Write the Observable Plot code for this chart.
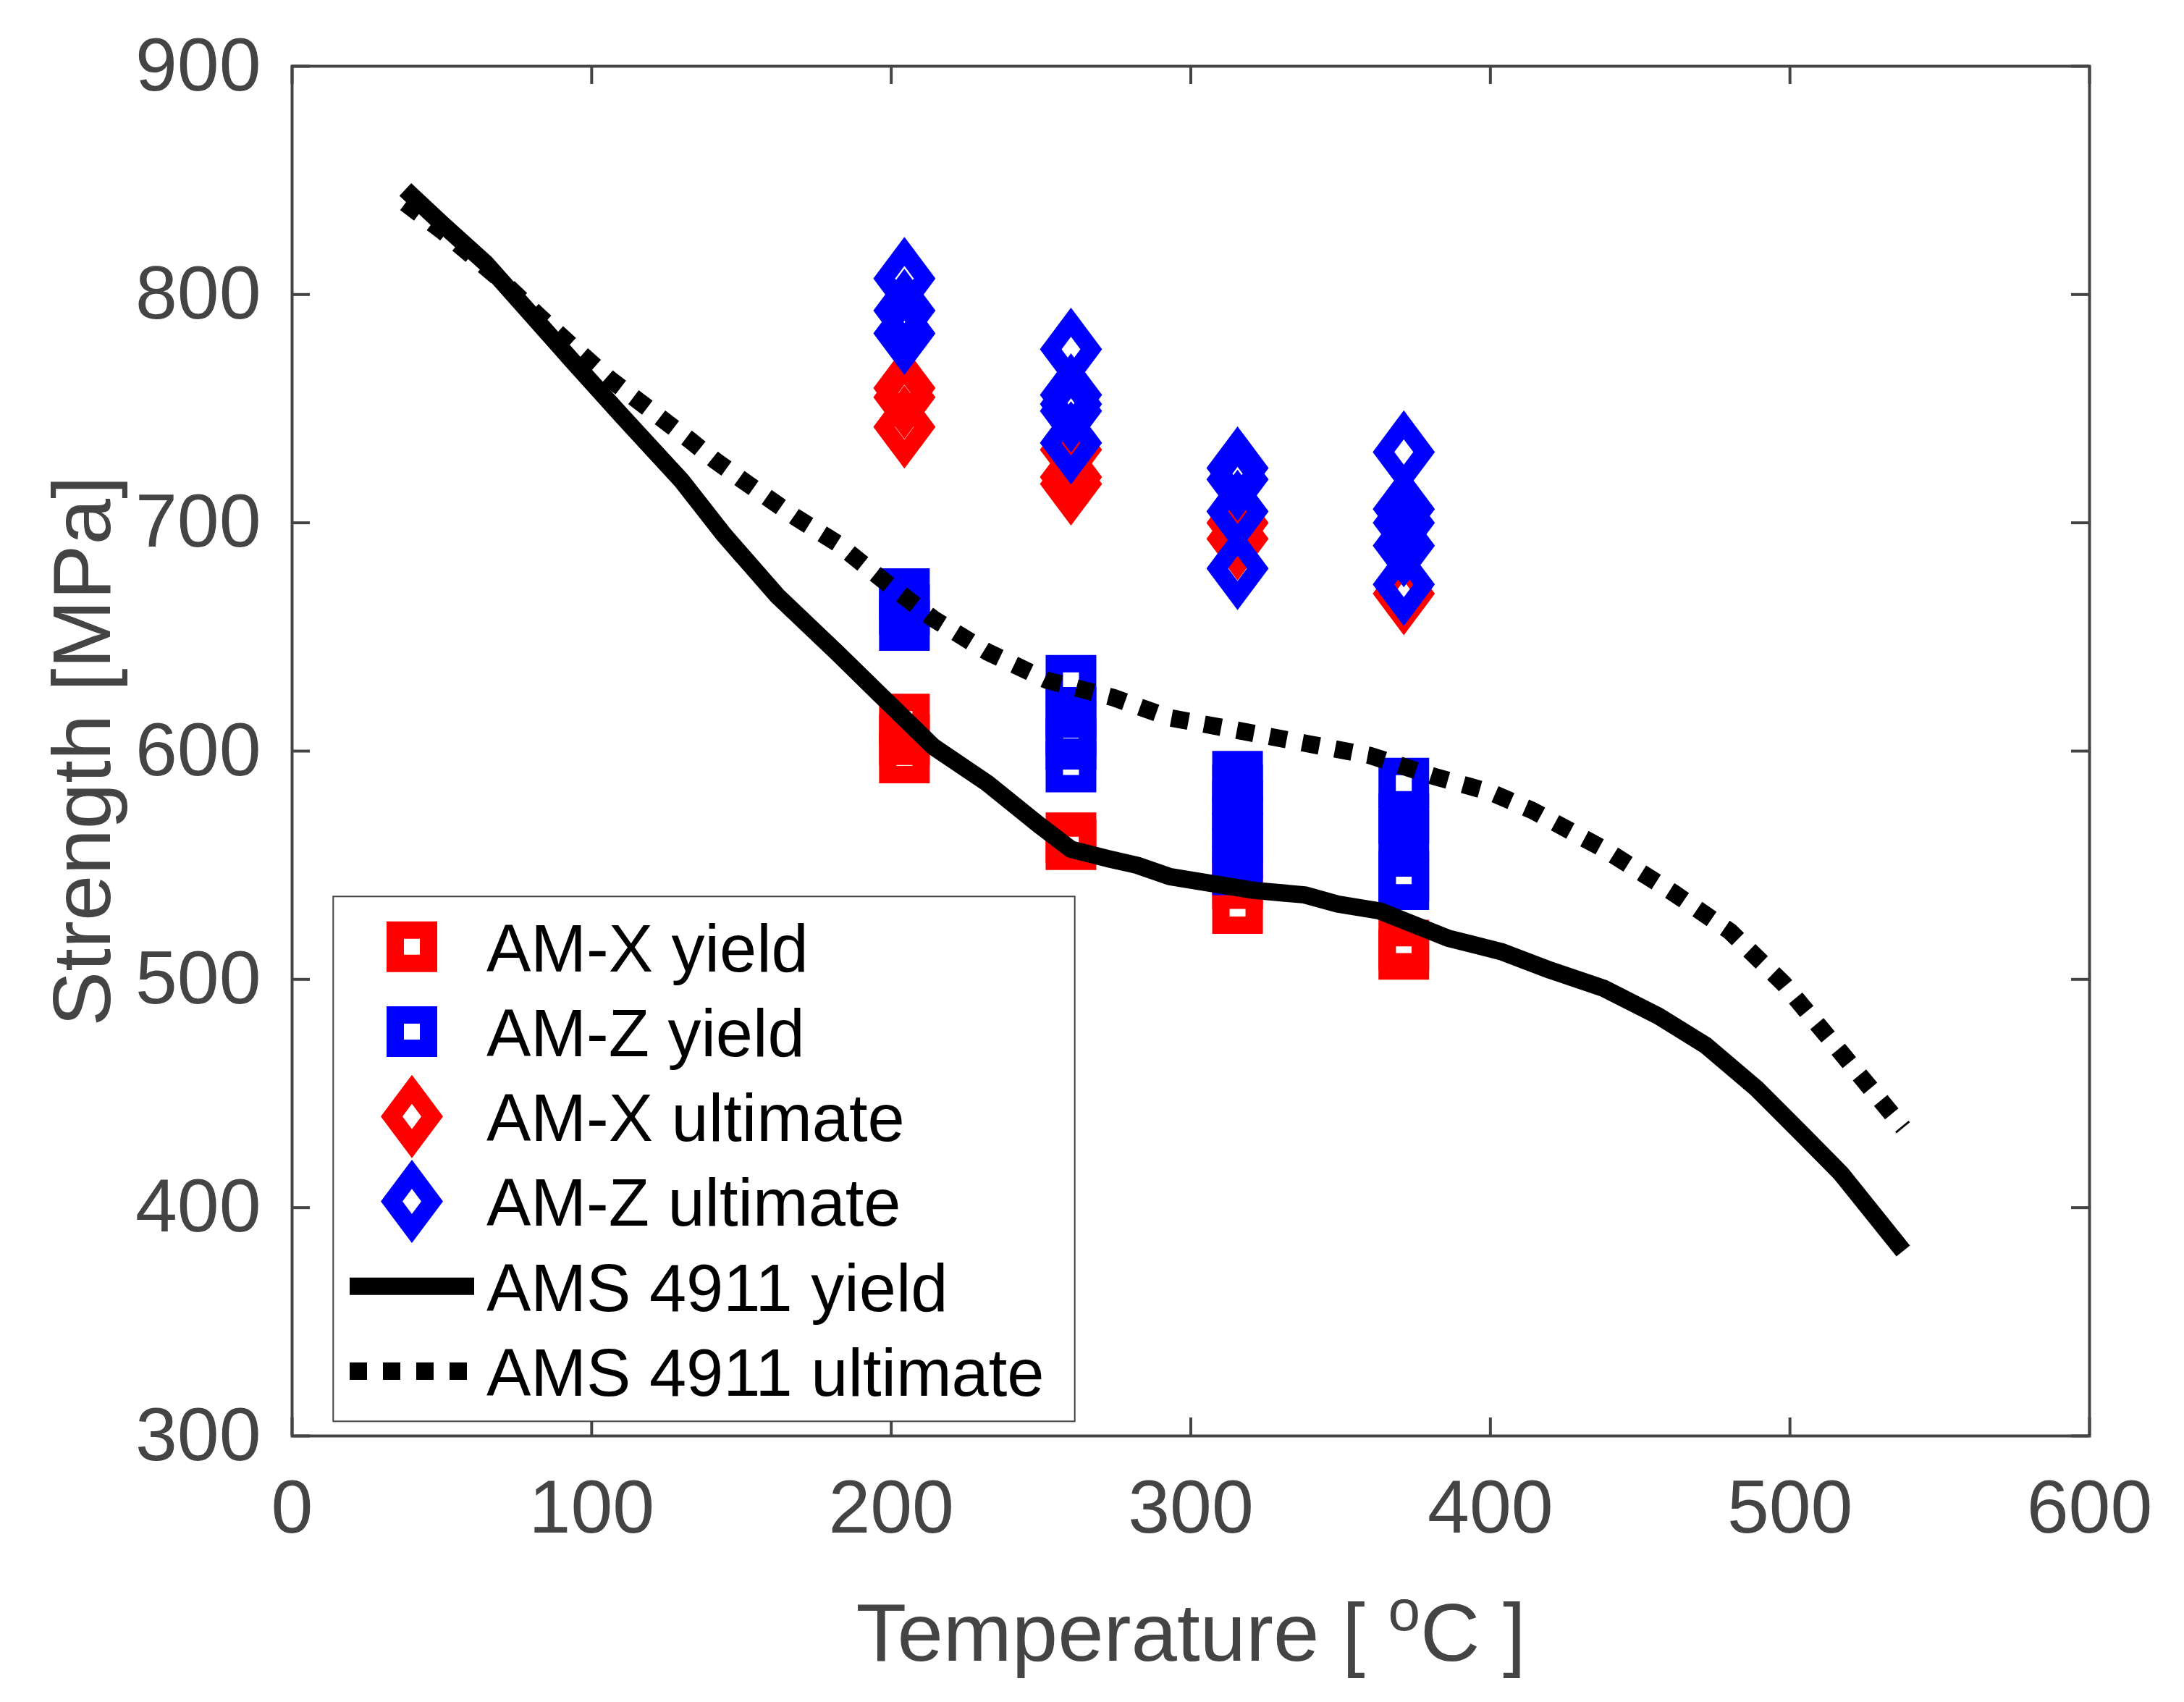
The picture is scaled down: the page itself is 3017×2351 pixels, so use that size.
<!DOCTYPE html>
<html>
<head>
<meta charset="utf-8">
<script src="https://cdn.jsdelivr.net/npm/d3@7"></script>
<script src="https://cdn.jsdelivr.net/npm/@observablehq/plot@0.6"></script>
<style>
  html, body { margin: 0; padding: 0; background: #fff; }
  #wrap { position: relative; width: 3017px; height: 2351px; }
  #wrap > svg { position: absolute; left: 0; top: 0; }
</style>
</head>
<body>
<div id="wrap"></div>
<script>
// ---------- data ----------
const xTicks = [0, 100, 200, 300, 400, 500, 600];
const yTicks = [300, 400, 500, 600, 700, 800, 900];
const testTemps = [204.4, 260, 315.6, 371.1];

const amxYield = [[614, 605, 597], [562, 559], [542, 531], [515, 511]];
const amzYield = [[669, 662, 655], [631, 617, 609, 603, 593], [589, 583, 576, 569, 562, 555, 548], [586, 570.5, 563.4, 545.2, 541.5]];
const amxUlt = [[759, 755, 742], [732, 720, 717], [700, 693], [669]];
const amzUlt = [[807, 793, 783], [776, 756, 752, 749, 735], [724, 719, 705, 680], [731, 706, 700, 690, 673]];

const specYieldT = [37.8, 50, 64.7, 80, 93.5, 110, 130, 144, 162, 182, 196, 214, 232, 249, 260, 272, 282, 293, 307, 321, 338, 349, 363, 386, 404, 420, 438, 456, 472, 489, 505, 517, 537.8];
const specYieldS = [846, 831, 813.6, 791, 771, 747, 718.5, 695, 668, 643, 625, 602, 586, 568, 557, 553, 550, 545, 542, 539, 537, 533, 530, 518, 512, 504, 496, 484, 471, 452, 431, 415, 381];
const specUltT = [37.8, 50, 60, 70, 82, 93, 106, 115, 124, 133, 141, 150, 168, 182, 200, 214, 232, 252, 274, 293, 316, 338, 360, 381, 400, 414, 438, 461, 480, 498, 517, 537.8];
const specUltS = [840, 828, 817, 806, 791, 778, 763, 754, 745, 736, 727.5, 719, 702.5, 691, 672, 658, 643.5, 631, 623.5, 614.6, 609, 603.5, 598, 589, 582, 574, 557, 538, 521, 498, 468, 435];

const seriesNames = ["AM-X yield", "AM-Z yield", "AM-X ultimate", "AM-Z ultimate", "AMS 4911 yield", "AMS 4911 ultimate"];
const seriesColors = ["#FF0000", "#0000FF", "#FF0000", "#0000FF", "#000000", "#000000"];
const yLabel = "Strength [MPa]";
const xLabelParts = ["Temperature [ ", "o", "C ]"];

// ---------- helpers ----------
const flat = (groups) => groups.flatMap((vals, i) => vals.map(v => ({T: testTemps[i], S: v})));
const curve = (T, S) => T.map((t, i) => ({T: t, S: S[i]}));

const squareSym = {draw(ctx, size) {
  const r = Math.sqrt(size / Math.PI);
  ctx.moveTo(-r, -r); ctx.lineTo(r, -r); ctx.lineTo(r, r); ctx.lineTo(-r, r); ctx.closePath();
}};
const diamondSym = {draw(ctx, size) {
  const r = Math.sqrt(size / Math.PI), w = r * 0.7467;
  ctx.moveTo(0, -r); ctx.lineTo(w, 0); ctx.lineTo(0, r); ctx.lineTo(-w, 0); ctx.closePath();
}};

const W = 3017, H = 2351;
const mL = 403, mR = 131, mT = 91, mB = 368;
const pw = W - mL - mR, ph = H - mT - mB;
const tick = 25;
const font = "'Liberation Sans', Arial, Helvetica, sans-serif";
const gray = "#444444";

const dotOpts = (sym, r, color) => ({x: "T", y: "S", symbol: sym, r, fill: "none", stroke: color, strokeWidth: 24, strokeLinejoin: "miter"});

const plot = Plot.plot({
  width: W, height: H,
  marginLeft: mL, marginRight: mR, marginTop: mT, marginBottom: mB,
  x: {domain: [0, 600]},
  y: {domain: [300, 900]},
  style: {fontFamily: font, background: "white", color: gray},
  marks: [
    Plot.axisX(xTicks, {tickSize: 0, tickPadding: 60, fontSize: 104, label: null}),
    Plot.axisY(yTicks, {tickSize: 0, tickPadding: 43, fontSize: 104, label: null}),
    Plot.tickX(xTicks, {x: d => d, insetTop: ph - tick, stroke: gray, strokeWidth: 4}),
    Plot.tickX(xTicks, {x: d => d, insetBottom: ph - tick, stroke: gray, strokeWidth: 4}),
    Plot.tickY(yTicks, {y: d => d, insetRight: pw - tick, stroke: gray, strokeWidth: 4}),
    Plot.tickY(yTicks, {y: d => d, insetLeft: pw - tick, stroke: gray, strokeWidth: 4}),
    Plot.dot(flat(amxYield), dotOpts(squareSym, 23, seriesColors[0])),
    Plot.dot(flat(amzYield), dotOpts(squareSym, 23, seriesColors[1])),
    Plot.dot(flat(amxUlt), dotOpts(diamondSym, 37.5, seriesColors[2])),
    Plot.dot(flat(amzUlt), dotOpts(diamondSym, 37.5, seriesColors[3])),
    Plot.line(curve(specYieldT, specYieldS), {x: "T", y: "S", stroke: seriesColors[4], strokeWidth: 24, strokeLinecap: "butt", strokeLinejoin: "round"}),
    Plot.line(curve(specUltT, specUltS), {x: "T", y: "S", stroke: seriesColors[5], strokeWidth: 24, strokeLinecap: "butt", strokeLinejoin: "round", strokeDasharray: "24,22"}),
    Plot.frame({stroke: gray, strokeWidth: 4}),
    Plot.text([yLabel], {text: d => d, frameAnchor: "left", dx: -252, rotate: -90, textAnchor: "middle", lineAnchor: "bottom", fontSize: 114, fill: gray}),
    Plot.text([xLabelParts.join("")], {text: d => d, frameAnchor: "bottom", dy: 310, textAnchor: "middle", lineAnchor: "bottom", fontSize: 114, fill: gray})
  ]
});

// superscript degree "o" in x label
d3.select(plot).selectAll("text").filter(function() { return this.textContent === xLabelParts.join(""); })
  .each(function() {
    const t = d3.select(this);
    t.text(null);
    t.append("tspan").text(xLabelParts[0]);
    t.append("tspan").attr("font-size", 80).attr("dy", -42).text(xLabelParts[1]);
    t.append("tspan").attr("font-size", 114).attr("dy", 42).text(xLabelParts[2]);
  });

document.getElementById("wrap").appendChild(plot);

// ---------- legend (overlay) ----------
const leg = d3.select("#wrap").append("svg")
  .attr("width", W).attr("height", H)
  .style("pointer-events", "none");
leg.append("rect")
  .attr("x", 460.3).attr("y", 1238.3).attr("width", 1024.4).attr("height", 725)
  .attr("fill", "white").attr("stroke", gray).attr("stroke-width", 2);
const rowY0 = 1307.7, rowStep = 117.25, cx = 569;
const kinds = ["square", "square", "diamond", "diamond", "solid", "dotted"];
seriesNames.forEach((name, k) => {
  const cy = rowY0 + k * rowStep;
  const color = seriesColors[k];
  const g = leg.append("g");
  if (kinds[k] === "square") {
    g.append("path").attr("d", `M${cx-23},${cy-23}H${cx+23}V${cy+23}H${cx-23}Z`)
      .attr("fill", "none").attr("stroke", color).attr("stroke-width", 24).attr("stroke-linejoin", "miter");
  } else if (kinds[k] === "diamond") {
    g.append("path").attr("d", `M${cx},${cy-37.5}L${cx+28},${cy}L${cx},${cy+37.5}L${cx-28},${cy}Z`)
      .attr("fill", "none").attr("stroke", color).attr("stroke-width", 24).attr("stroke-linejoin", "miter");
  } else {
    g.append("line").attr("x1", 483).attr("x2", kinds[k] === "solid" ? 655 : 645).attr("y1", cy).attr("y2", cy)
      .attr("stroke", color).attr("stroke-width", 24)
      .attr("stroke-dasharray", kinds[k] === "dotted" ? "24,22" : null);
  }
  g.append("text").attr("x", 672).attr("y", cy + 34)
    .attr("font-family", font).attr("font-size", 92).attr("fill", "#000").text(name);
});
</script>
</body>
</html>
